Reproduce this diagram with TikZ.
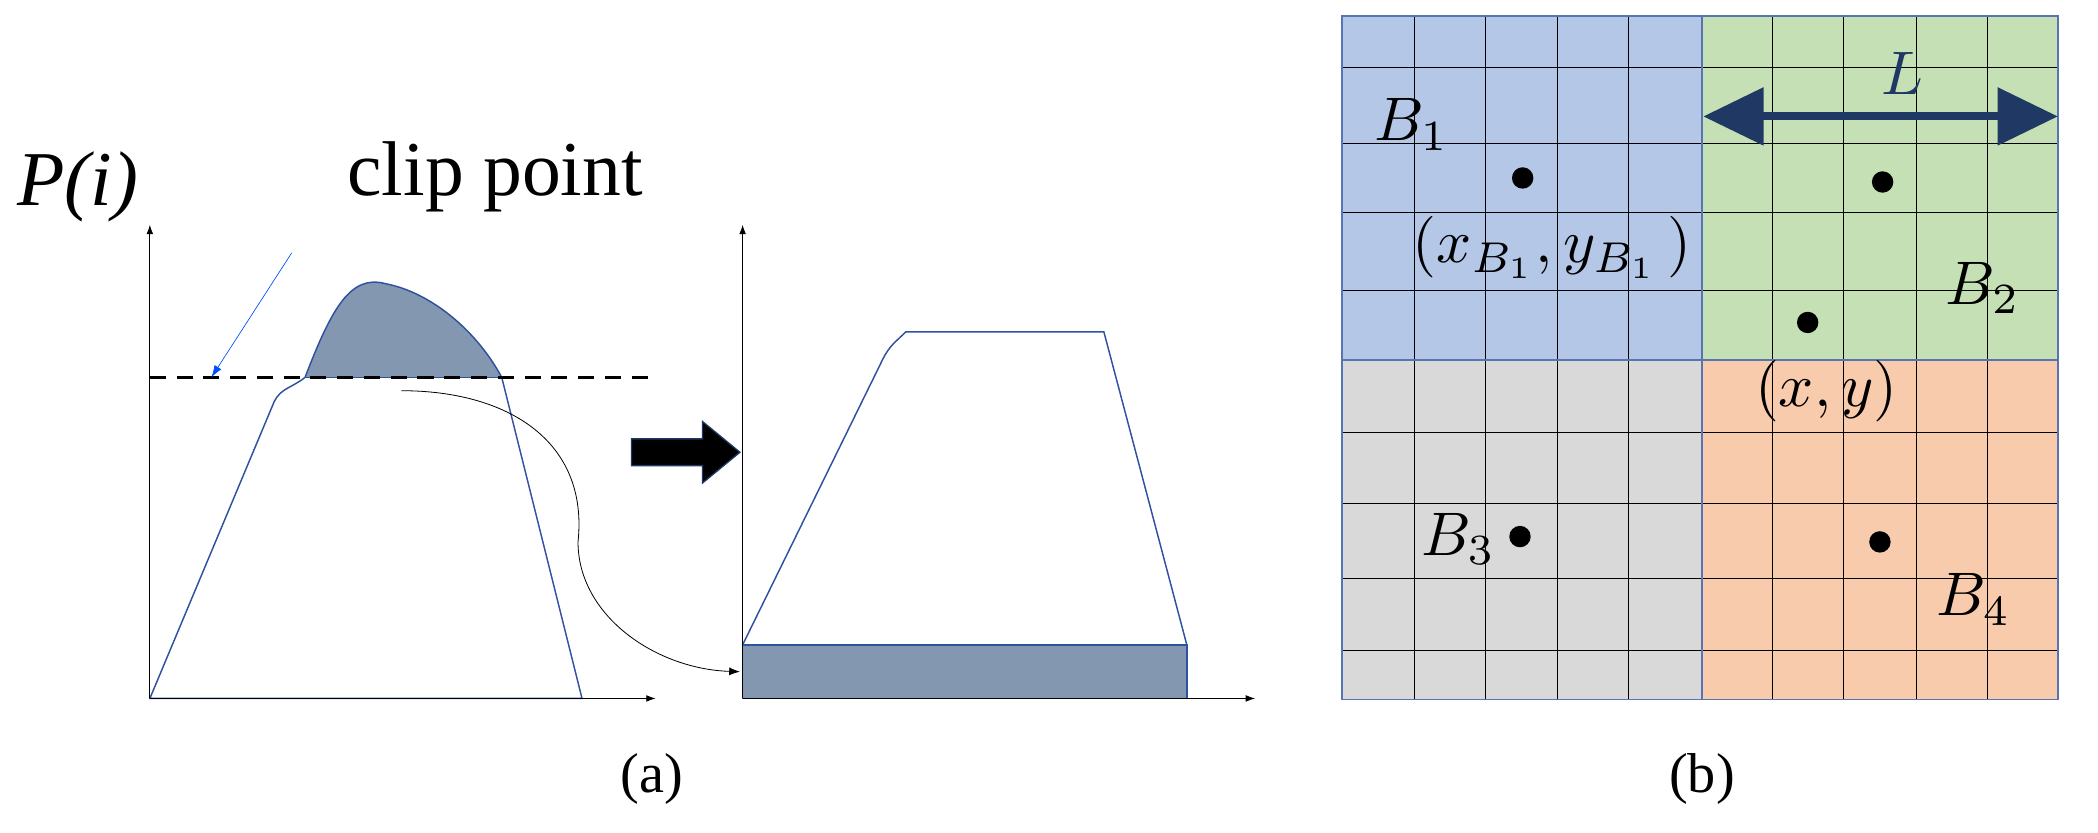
\documentclass[tikz,border=0pt]{standalone}
\usepackage{graphicx}
\usepackage{fontspec}
\setmainfont{Liberation Serif}
\usetikzlibrary{arrows.meta}
\definecolor{cblue}{HTML}{B4C7E7}
\definecolor{cgreen}{HTML}{C5E0B4}
\definecolor{cgray}{HTML}{D9D9D9}
\definecolor{corange}{HTML}{F8CBAD}
\definecolor{capfill}{HTML}{8497B0}
\definecolor{edge}{HTML}{2F52A0}
\definecolor{navy}{HTML}{203864}
\newcommand\mth[1]{\scalebox{4.6}{$#1$}}
\begin{document}
\begin{tikzpicture}[x=1pt,y=-1pt,
  axis/.style={-{Latex[length=7pt,width=5pt]},line width=0.6pt},
  curve/.style={draw=edge,line width=1.1pt},
  dot/.style={circle,fill=black,inner sep=0pt,minimum size=16pt},
  lbl/.style={inner sep=0pt}]
\useasboundingbox (0,0) rectangle (1568,622);
% ---------- panel (a)
\node[inner sep=0pt,font=\fontsize{58}{62}\selectfont\itshape] (P) at (58,140) {P(i)};
\node[inner sep=0pt,font=\fontsize{58}{62}\selectfont] (clip) at (370,132) {clip point};
% shaded cap
\fill[capfill] (228,282) .. controls (248,230) and (262,205) .. (288,212)
  .. controls (320,218) and (355,245) .. (375,282) -- cycle;
\draw[curve] (112,522) -- (205,300) .. controls (210,290) and (218,290) .. (228,282)
  .. controls (248,230) and (262,205) .. (288,212)
  .. controls (320,218) and (355,245) .. (375,282) -- (435,522) -- cycle;
\draw[curve] (228,282) -- (375,282);
\draw[line width=2.2pt,dash pattern=on 12pt off 8pt] (112,282) -- (490,282);
\draw[axis] (112,522) -- (112,168);
\draw[axis] (112,522) -- (490,522);
\coordinate (ca) at (218,189);
\coordinate (cb) at (158,282);
\draw[-{Latex[length=9pt,width=6pt]},draw=blue!70!cyan,line width=0.5pt] (ca) -- (cb);
% second plot
\fill[capfill] (555,482) rectangle (887,522);
\draw[curve] (555,522) rectangle (887,482);
\draw[curve] (555,482) -- (660,268) .. controls (665,258) and (670,255) .. (677,248) -- (825,248) -- (887,482);
\draw[axis] (555,522) -- (555,168);
\draw[axis] (555,522) -- (938,522);
\coordinate (ma) at (300,292);
\coordinate (mb) at (553,502);
\draw[-{Latex[length=8pt,width=6pt]},line width=0.6pt] (ma) .. controls (380,292) and (440,330) .. (432,405) .. controls (432,460) and (490,500) .. (mb);
% fat arrow
\fill[black,draw=navy,line width=1pt] (472,328) -- (525,328) -- (525,315) -- (553,338) -- (525,361) -- (525,348) -- (472,348) -- cycle;
\node[inner sep=0pt,font=\fontsize{42}{46}\selectfont] (a) at (487,582) {(a)};
% ---------- panel (b)
\fill[cblue] (1003,12) rectangle (1272,269);
\fill[cgreen] (1272,12) rectangle (1538,269);
\fill[cgray] (1003,269) rectangle (1272,523);
\fill[corange] (1272,269) rectangle (1538,523);
\foreach \x in {1057,1110,1164,1217,1325,1378,1432,1485}
  \draw[line width=0.6pt] (\x,12) -- (\x,523);
\foreach \y in {50,107,159,217,323,376,432,486}
  \draw[line width=0.6pt] (1003,\y) -- (1538,\y);
\draw[edge!80,line width=1pt] (1003,12) rectangle (1538,523);
\draw[edge!80,line width=1pt] (1272,12) -- (1272,523) (1003,269) -- (1538,269);
\coordinate (la) at (1273,87);
\coordinate (lb) at (1538,87);
\draw[{Triangle[length=45pt,width=42pt]}-{Triangle[length=45pt,width=42pt]},navy,line width=6pt] (la) -- (lb);
\node[lbl,text=navy] (L) at (1422,55) {\mth{L}};
\node[dot] (d1) at (1138,133) {};
\node[dot] (d2) at (1407,136) {};
\node[dot] (d3) at (1351,241) {};
\node[dot] (d4) at (1136,401) {};
\node[dot] (d5) at (1405,405) {};
\node[lbl] (B1) at (1055,93) {\mth{B_1}};
\node[lbl] (xy1) at (1160,185) {\mth{(x_{B_1},y_{B_1}\,)}};
\node[lbl] (xy) at (1365,292) {\mth{(x,y)}};
\node[lbl] (B2) at (1482,215) {\mth{B_2}};
\node[lbl] (B3) at (1090,403) {\mth{B_3}};
\node[lbl] (B4) at (1475,448) {\mth{B_4}};
\node[inner sep=0pt,font=\fontsize{42}{46}\selectfont] (b) at (1272,582) {(b)};
\end{tikzpicture}
\end{document}
